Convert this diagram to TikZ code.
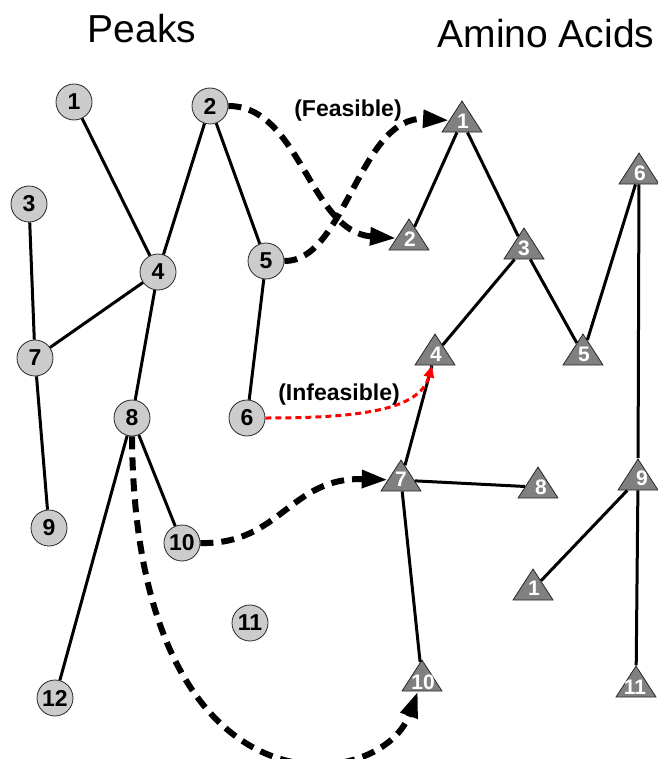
\documentclass[tikz,border=0pt]{standalone}
\usepackage{fontspec}
\setmainfont{Liberation Sans}
\usetikzlibrary{shapes.geometric,arrows.meta,calc}
\definecolor{circfill}{RGB}{204,204,204}
\definecolor{trifill}{RGB}{128,128,128}
\definecolor{rim}{RGB}{40,40,40}
\begin{document}
\begin{tikzpicture}[x=1pt,y=-1pt,
  peak/.style={circle,minimum size=36pt,inner sep=0pt,fill=circfill,draw=rim,line width=0.8pt,font=\fontsize{23}{23}\selectfont\bfseries},
  aa/.style={isosceles triangle,shape border rotate=90,isosceles triangle stretches,minimum width=40pt,minimum height=31pt,inner sep=0pt,fill=trifill,draw=rim,line width=0.8pt,anchor=apex},
  aanum/.style={inner sep=0pt,text=white,font=\fontsize{21}{21}\selectfont\bfseries},
  edge/.style={line width=3pt},
  feas/.style={line width=6pt,dash pattern=on 13pt off 8pt,-{Triangle[length=26pt,width=17pt]}},
  infeas/.style={line width=3pt,red,dash pattern=on 6pt off 4pt,-{Triangle[length=12pt,width=10pt]}},
  title/.style={anchor=base,font=\fontsize{39}{39}\selectfont},
  lbl/.style={font=\fontsize{23}{23}\selectfont\bfseries,inner sep=0pt}]
\useasboundingbox (0,0) rectangle (657,759);
\node[title] (tp) at (142,43) {Peaks};
\node[title] (ta) at (546,48) {Amino Acids};
% triangles
\node[aa] (t1) at (462,100) {};
\node[aa] (t2) at (409,218) {};
\node[aa] (t3) at (524,227) {};
\node[aa] (t4) at (435,333) {};
\node[aa] (t5) at (583,333) {};
\node[aa] (t6) at (639,152) {};
\node[aa] (t7) at (401,459) {};
\node[aa] (t8) at (538,466) {};
\node[aa] (t9) at (638,458) {};
\node[aa] (t1b) at (533,568) {};
\node[aa] (t10) at (422,659) {};
\node[aa] (t11) at (636,665) {};
\draw[edge] (t2) -- (t1);
\draw[edge] (t1) -- (t3);
\draw[edge] (t3) -- (t4);
\draw[edge] (t3) -- (t5);
\draw[edge] (t5) -- (t6);
\draw[edge] (t6) -- (t9);
\draw[edge] (t4) -- (t7);
\draw[edge] (t7) -- (t8);
\draw[edge] (t7) -- (t10);
\draw[edge] (t9) -- (t1b);
\draw[edge] (t9) -- (t11);
\node[aanum] (n1) at (463,121) {1};
\node[aanum] (n2) at (410,239) {2};
\node[aanum] (n3) at (524,248) {3};
\node[aanum] (n4) at (436,354) {4};
\node[aanum] (n5) at (584,354) {5};
\node[aanum] (n6) at (640,173) {6};
\node[aanum] (n7) at (401,479) {7};
\node[aanum] (n8) at (541,487) {8};
\node[aanum] (n9) at (642,478) {9};
\node[aanum] (n1b) at (534,588) {1};
\node[aanum] (n10) at (423,682) {10};
\node[aanum] (n11) at (635,687) {11};
% circles
\node[peak] (c1) at (74,102) {1};
\node[peak] (c2) at (210,106) {2};
\node[peak] (c3) at (29,204) {3};
\node[peak] (c4) at (158,272) {4};
\node[peak] (c5) at (266,261) {5};
\node[peak] (c6) at (247,418) {6};
\node[peak] (c7) at (35,358) {7};
\node[peak] (c8) at (132,418) {8};
\node[peak] (c9) at (49,528) {9};
\node[peak] (c10) at (182,543) {10};
\node[peak] (c11) at (250,623) {11};
\node[peak] (c12) at (55,698) {12};
\draw[edge] (c1) -- (c4);
\draw[edge] (c2) -- (c4);
\draw[edge] (c2) -- (c5);
\draw[edge] (c3) -- (c7);
\draw[edge] (c4) -- (c7);
\draw[edge] (c4) -- (c8);
\draw[edge] (c5) -- (c6);
\draw[edge] (c7) -- (c9);
\draw[edge] (c8) -- (c10);
\draw[edge] (c8) -- (c12);
% mappings
\draw[feas] (c2.east) .. controls (300,106) and (310,232) .. (t2);
\draw[feas] (c5.east) .. controls (345,262) and (360,115) .. (t1);
\draw[feas] (c10.east) .. controls (280,545) and (290,477) .. (t7);
\draw[feas] (c8.south) .. controls (135,825) and (380,795) .. (t10);
\draw[infeas] (c6.east) .. controls (360,418) and (420,410) .. (t4);
\node[lbl] (lf) at (348,111) {(Feasible)};
\node[lbl] (li) at (339,395) {(Infeasible)};
\end{tikzpicture}
\end{document}
